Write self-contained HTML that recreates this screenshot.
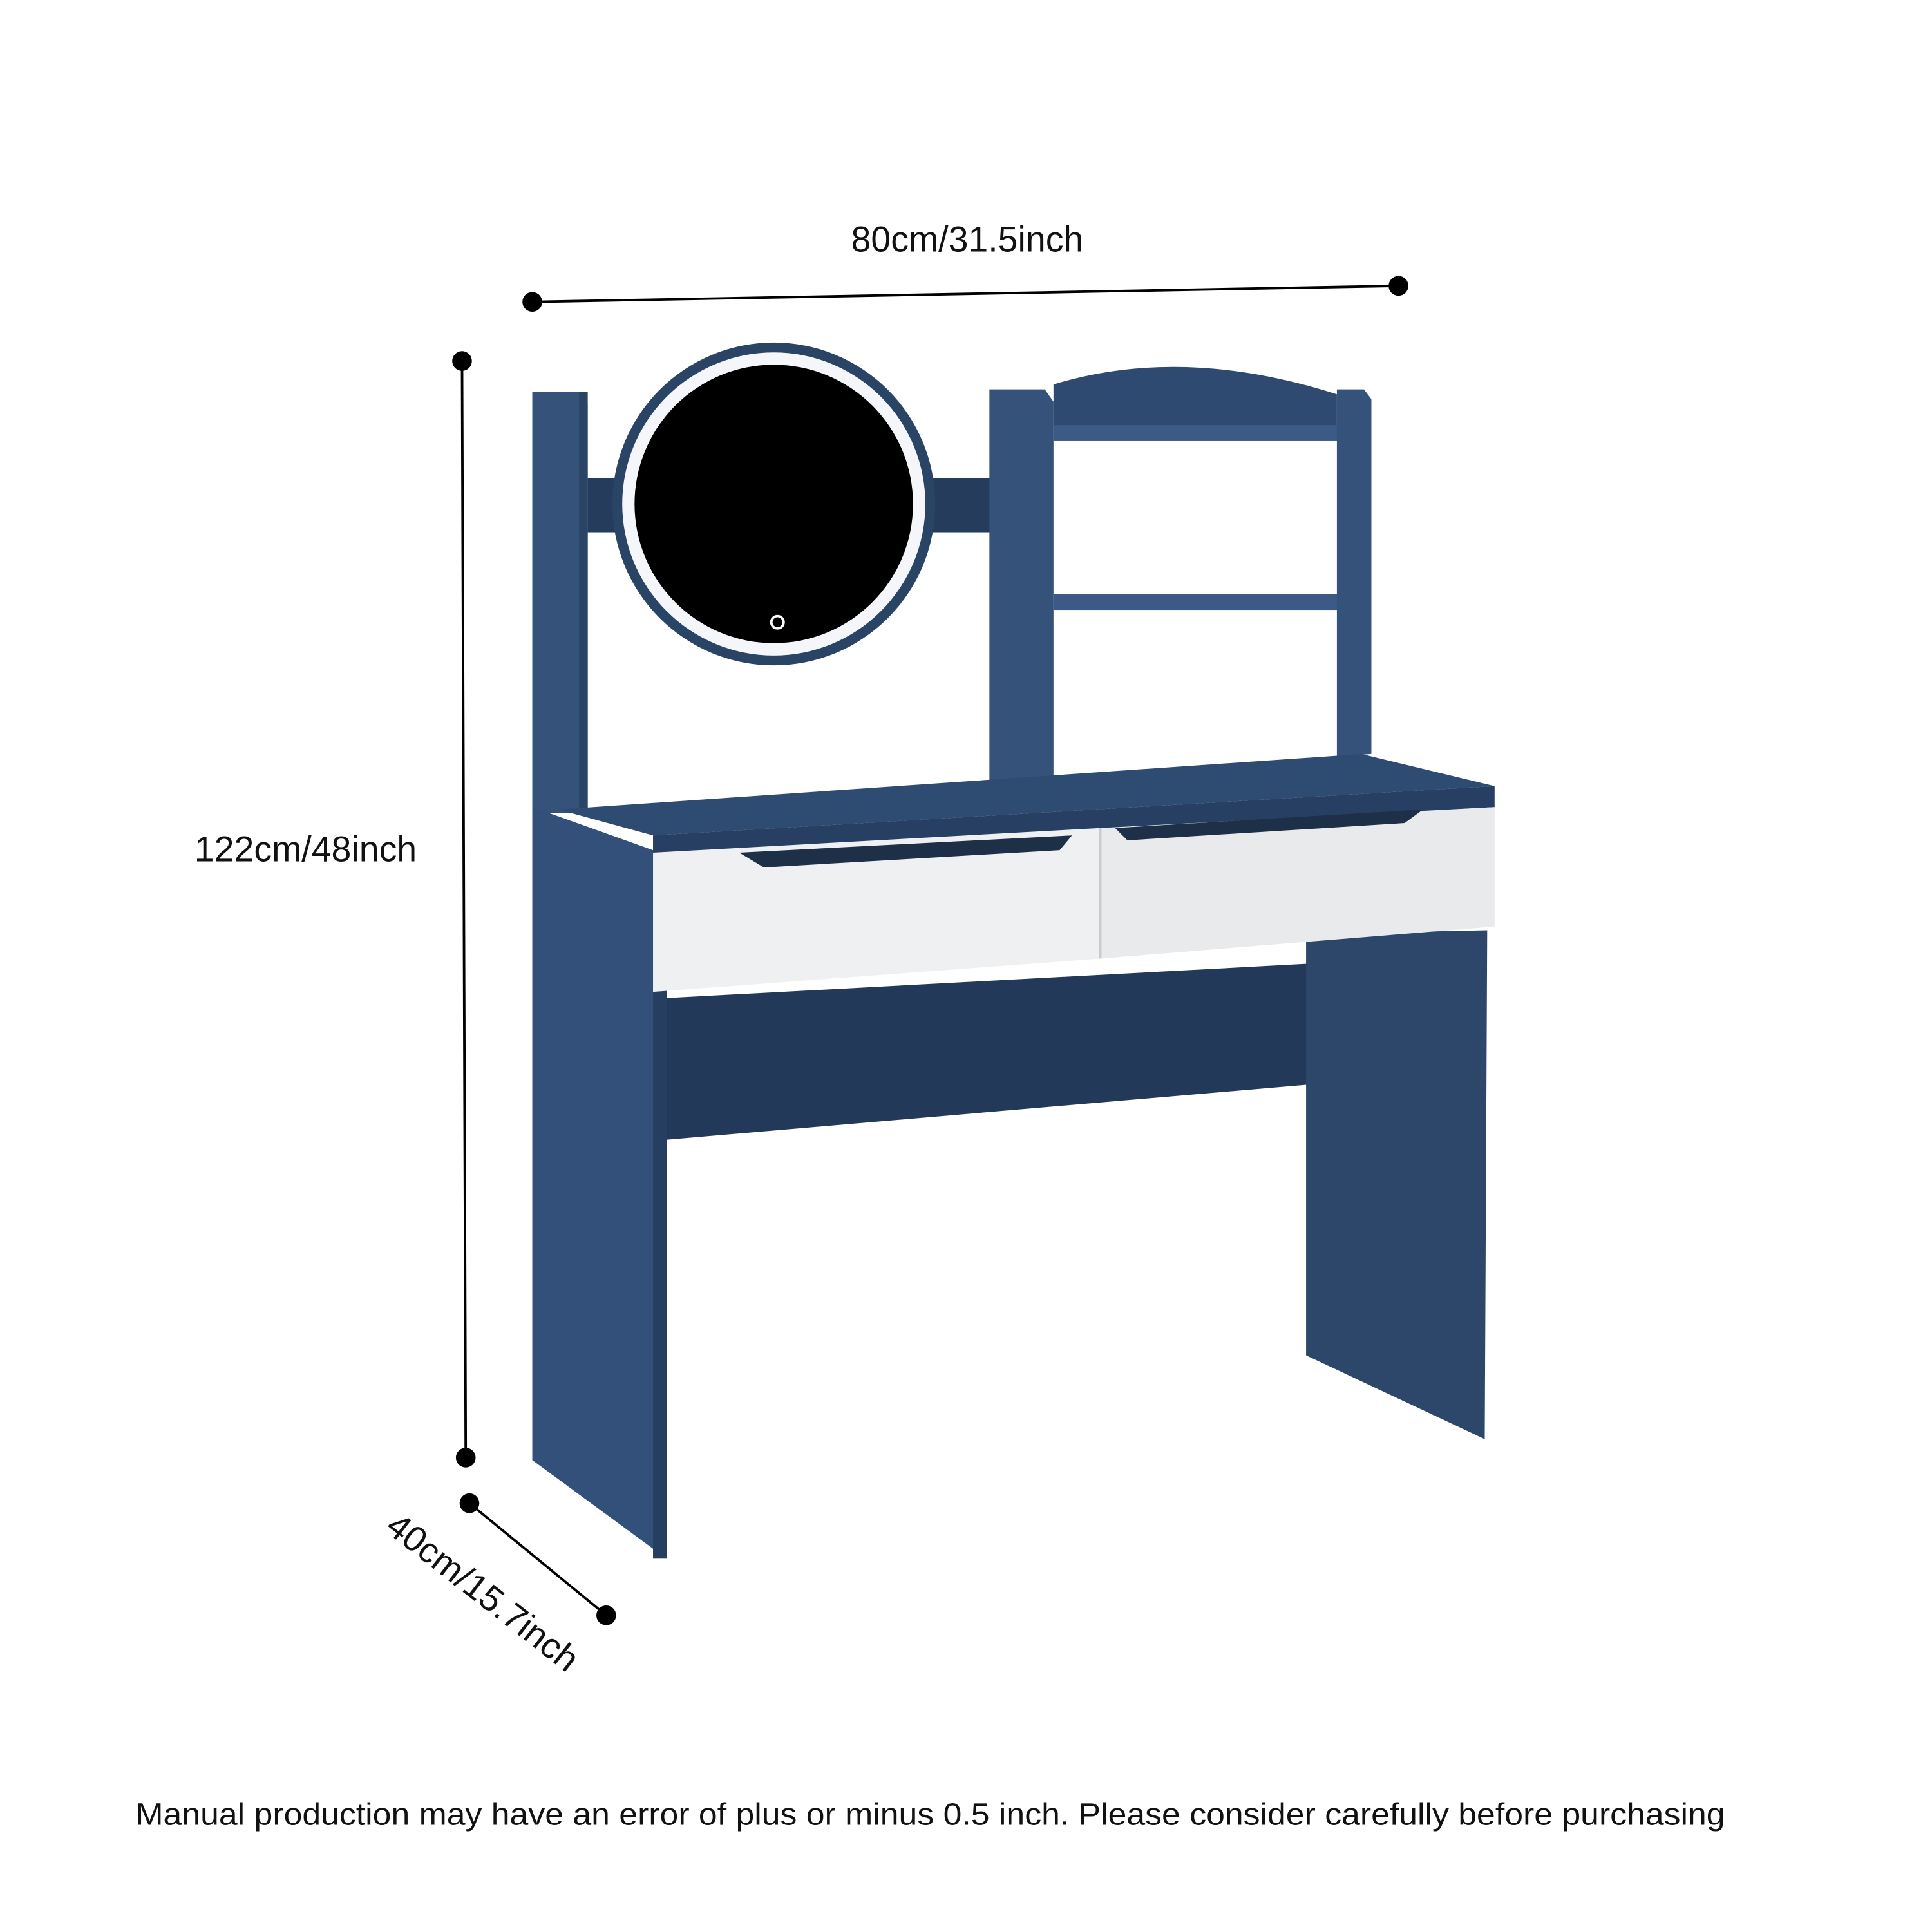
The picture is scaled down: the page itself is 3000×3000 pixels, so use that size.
<!DOCTYPE html>
<html><head><meta charset="utf-8"><style>
html,body{margin:0;padding:0;background:#fff;width:3000px;height:3000px;overflow:hidden}
svg{display:block}
text{font-family:"Liberation Sans","DejaVu Sans",sans-serif;fill:#111}
</style></head><body>
<svg width="3000" height="3000" viewBox="0 0 1568 1568" xmlns="http://www.w3.org/2000/svg">
<rect width="1568" height="1568" fill="#fff"/>
<g stroke="#000" stroke-width="2">
<line x1="432" y1="245" x2="1135" y2="232"/>
<line x1="375" y1="293" x2="378" y2="1183"/>
<line x1="381" y1="1220" x2="492" y2="1311"/>
</g>
<g fill="#000">
<circle cx="432" cy="245" r="8"/><circle cx="1135" cy="232" r="8"/>
<circle cx="375" cy="293" r="8"/><circle cx="378" cy="1183" r="8"/>
<circle cx="381" cy="1220" r="8"/><circle cx="492" cy="1311" r="8"/>
</g>
<text x="785" y="204" font-size="29" text-anchor="middle">80cm/31.5inch</text>
<text x="248" y="699" font-size="29" text-anchor="middle">122cm/48inch</text>
<text x="392" y="1302" font-size="29" text-anchor="middle" transform="rotate(38 392 1292)">40cm/15.7inch</text>
<text x="110" y="1481" font-size="25" textLength="1290" lengthAdjust="spacingAndGlyphs">Manual production may have an error of plus or minus 0.5 inch. Please consider carefully before purchasing</text>

<rect x="477" y="388" width="328" height="44" fill="#263c5c"/>
<path d="M432 318 L470 318 L477 328 L477 660 L432 660 Z" fill="#34527a"/>
<rect x="470" y="318" width="7" height="342" fill="#2a4466"/>
<path d="M803 316 L848 316 L855 326 L855 635 L803 640 Z" fill="#34527a"/>
<path d="M855 312 Q960 280 1085 320 L1085 347 L855 347 Z" fill="#2e4a70"/>
<rect x="855" y="345" width="250" height="13" fill="#3b5b86"/>
<rect x="855" y="482" width="250" height="13" fill="#3b5b86"/>
<path d="M1085 316 L1107 316 L1113 324 L1113 612 L1085 614 Z" fill="#34527a"/>
<circle cx="628" cy="409" r="131" fill="#2a4466"/>
<circle cx="628" cy="409" r="123" fill="#f4f6fa"/>
<circle cx="628" cy="409" r="113" fill="#000"/>
<circle cx="631" cy="505" r="5" fill="none" stroke="#fff" stroke-width="2"/>
<path d="M541 810 L1065 782 L1065 880 L541 925 Z" fill="#22395a"/>
<path d="M1060 758 L1207 755 L1205 1168 L1060 1100 Z" fill="#2c4769"/>
<path d="M432 655 L530 690 L541 1265 L432 1185 Z" fill="#33507a"/>
<rect x="530" y="690" width="11" height="575" fill="#263e60"/>
<path d="M453 657 L1105 612 L1213 638 L530 678 Z" fill="#2e4b72"/>
<path d="M530 678 L1213 638 L1213 655 L530 694 Z" fill="#273f62"/>
<path d="M530 692 L893 672 L893 778 L530 805 Z" fill="#eff0f2"/>
<path d="M893 672 L1213 655 L1213 752 L893 778 Z" fill="#e9eaec"/>
<line x1="893" y1="672" x2="893" y2="778" stroke="#c9cbd0" stroke-width="2"/>
<path d="M600 692 L870 678 L860 690 L620 704 Z" fill="#1e2f48"/>
<path d="M905 672 L1155 657 L1140 668 L915 682 Z" fill="#1e2f48"/>
</svg>
</body></html>
